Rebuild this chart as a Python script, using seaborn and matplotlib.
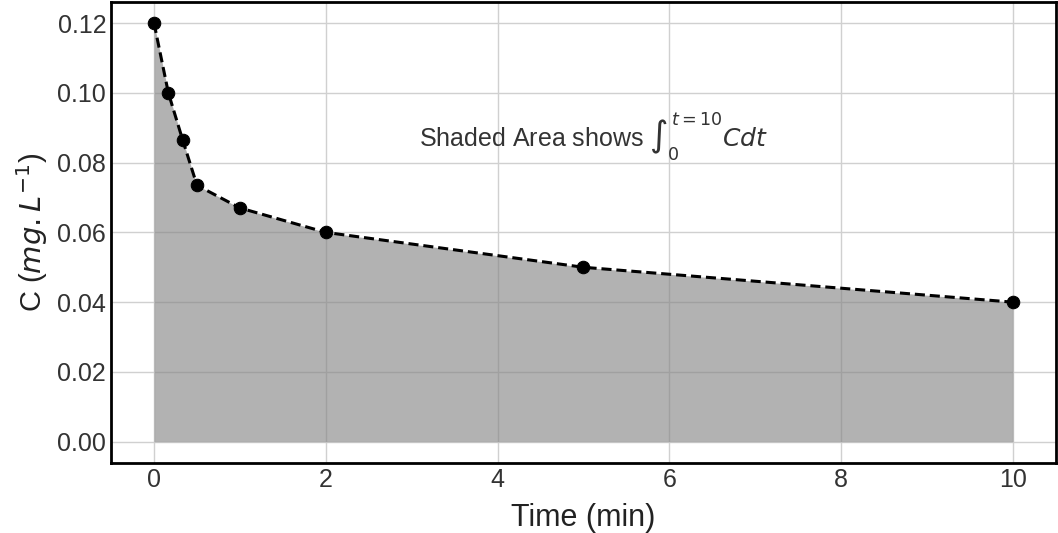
import matplotlib
matplotlib.use("Agg")
import matplotlib.pyplot as plt
import seaborn as sns
import pandas as pd

# Concentration measurements over time
time_min = [0, 1/6, 1/3, 0.5, 1, 2, 5, 10]
conc = [0.12, 0.10, 0.0865, 0.0735, 0.067, 0.060, 0.050, 0.040]

df = pd.DataFrame({"t": time_min, "C": conc})

sns.set_style("whitegrid")
plt.rcParams["font.family"] = ["Liberation Sans", "DejaVu Sans"]
plt.rcParams["mathtext.fontset"] = "dejavusans"

fig, ax = plt.subplots(figsize=(10.58, 5.33), dpi=100)

ax.fill_between(df["t"], df["C"], color="gray", alpha=0.6, linewidth=0)
sns.lineplot(data=df, x="t", y="C", ax=ax, color="black",
             linestyle=(0, (3.3, 1.6)), linewidth=2.2,
             marker="o", markersize=9, markeredgecolor="black")

ax.text(3.08, 0.0875, r"Shaded Area shows $\int_0^{t=10}Cdt$", fontsize=18,
        va="center", ha="left", color="#333333")

ax.set_xlabel("Time (min)", fontsize=22, color="#222222", labelpad=8)
ax.set_ylabel(r"C ($mg.L^{-1}$)", fontsize=21, color="#222222", labelpad=5)
ax.tick_params(axis="both", labelsize=18, colors="#333333", length=0)
ax.set_yticks([0.0, 0.02, 0.04, 0.06, 0.08, 0.10, 0.12])
ax.set_xticks([0, 2, 4, 6, 8, 10])
ax.grid(color="#d0d0d0", linewidth=1)
for s in ax.spines.values():
    s.set_color("black")
    s.set_linewidth(2)

fig.subplots_adjust(left=0.105, right=0.998, top=0.996, bottom=0.132)
fig.savefig("out.png", dpi=100)
